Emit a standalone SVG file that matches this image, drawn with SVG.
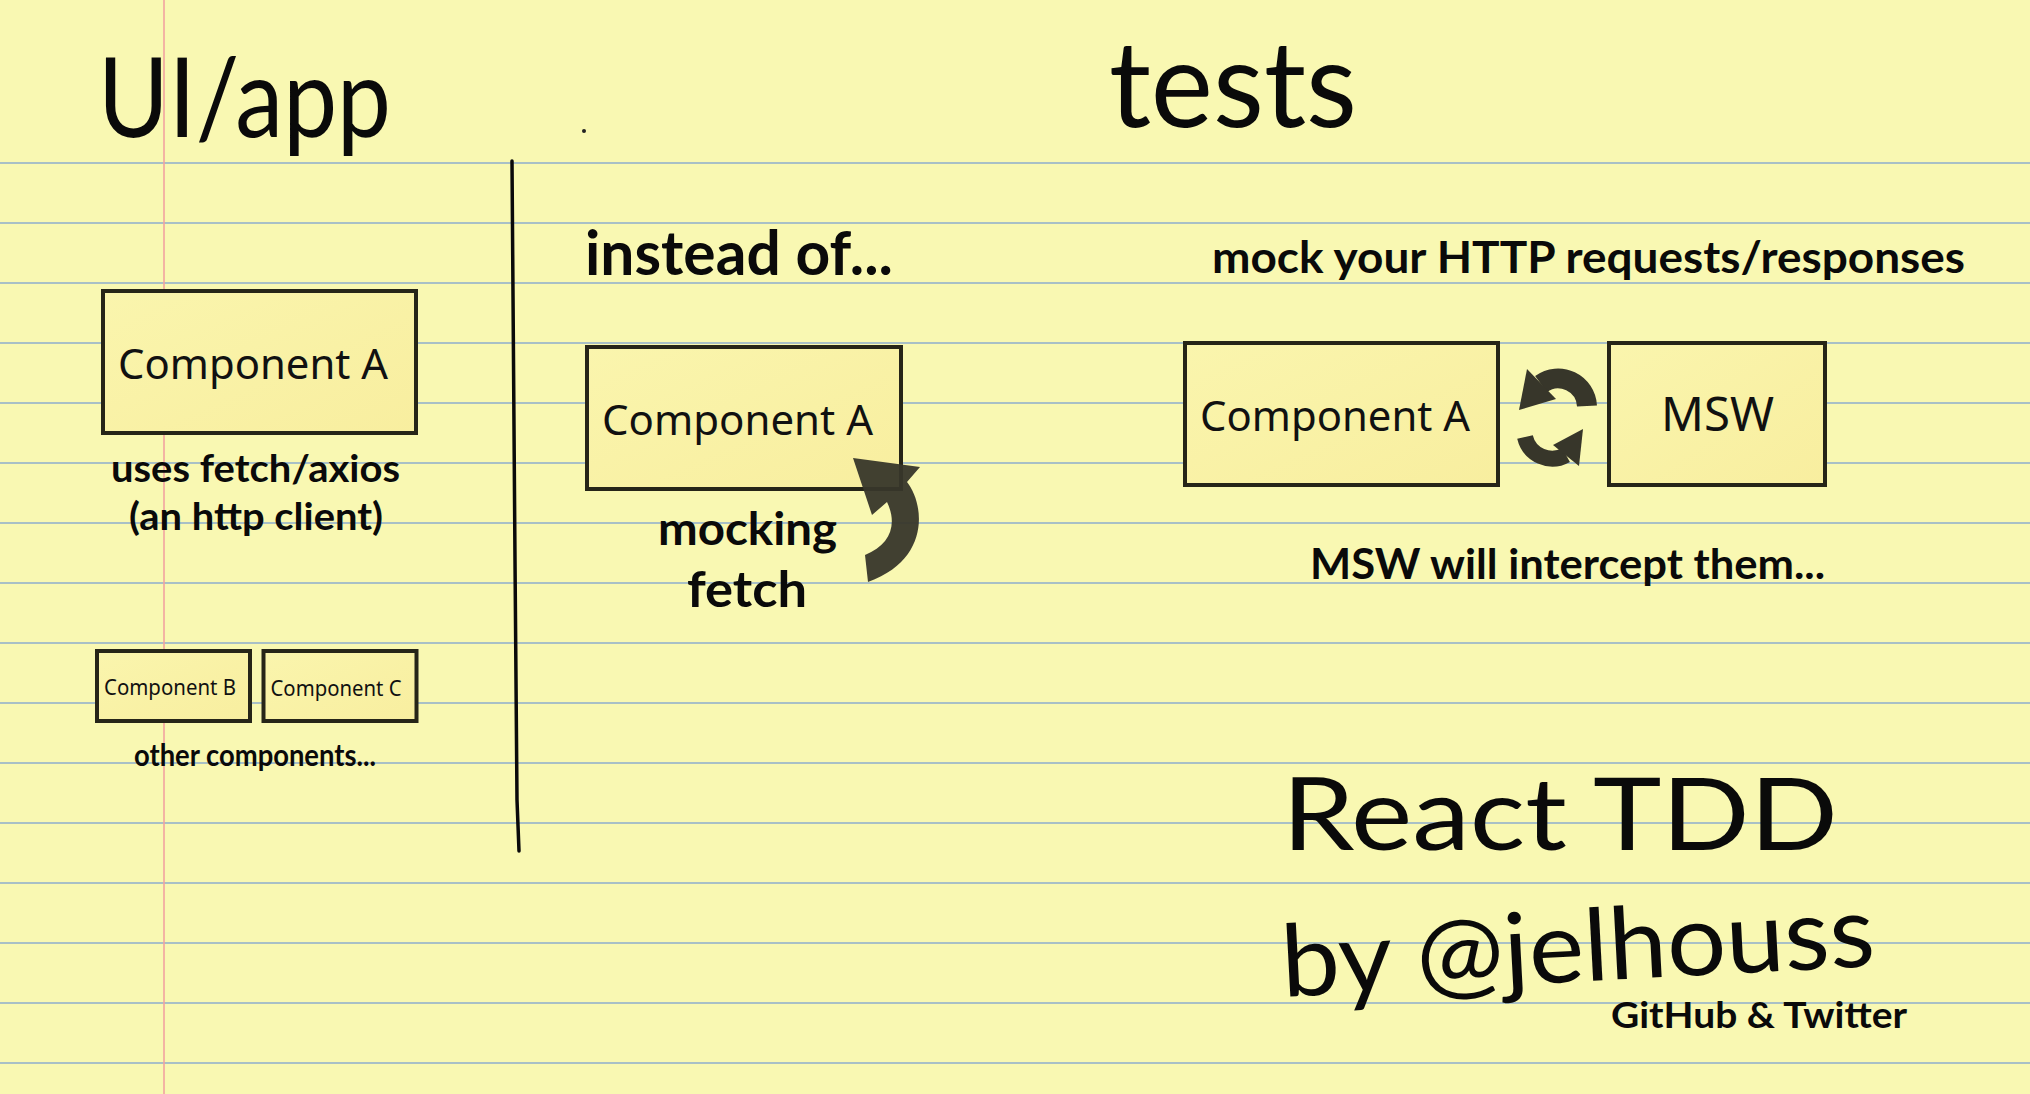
<svg xmlns="http://www.w3.org/2000/svg" width="2030" height="1094" viewBox="0 0 2030 1094">
<defs>
<style>
.rule{stroke:#a9c0c6;stroke-width:2}
.margin{stroke:#f2a3a0;stroke-width:1.6}
.box{fill:url(#boxfill);stroke:#262518;stroke-width:4}
.lbl{font-family:"Noto Sans","Liberation Sans",sans-serif;fill:#111}
.hand{font-family:Lato,"Noto Sans",sans-serif;fill:#0a0a0a}
.b{font-weight:700}
.icon{fill:#37362a}
.iconS{fill:none;stroke:#37362a;stroke-linecap:butt}
</style>
<linearGradient id="boxfill" x1="0" y1="0" x2="1" y2="1">
<stop offset="0" stop-color="#faf5ad"/>
<stop offset="1" stop-color="#f8ee9f"/>
</linearGradient>
</defs>

<g id="paper">
<rect x="0" y="0" width="2030" height="1094" fill="#f9f8b2"/>
<g>
<line class="rule" x1="0" y1="163" x2="2030" y2="163"/>
<line class="rule" x1="0" y1="223" x2="2030" y2="223"/>
<line class="rule" x1="0" y1="283" x2="2030" y2="283"/>
<line class="rule" x1="0" y1="343" x2="2030" y2="343"/>
<line class="rule" x1="0" y1="403" x2="2030" y2="403"/>
<line class="rule" x1="0" y1="463" x2="2030" y2="463"/>
<line class="rule" x1="0" y1="523" x2="2030" y2="523"/>
<line class="rule" x1="0" y1="583" x2="2030" y2="583"/>
<line class="rule" x1="0" y1="643" x2="2030" y2="643"/>
<line class="rule" x1="0" y1="703" x2="2030" y2="703"/>
<line class="rule" x1="0" y1="763" x2="2030" y2="763"/>
<line class="rule" x1="0" y1="823" x2="2030" y2="823"/>
<line class="rule" x1="0" y1="883" x2="2030" y2="883"/>
<line class="rule" x1="0" y1="943" x2="2030" y2="943"/>
<line class="rule" x1="0" y1="1003" x2="2030" y2="1003"/>
<line class="rule" x1="0" y1="1063" x2="2030" y2="1063"/>
</g>
<line class="margin" x1="164" y1="0" x2="164" y2="1094"/>
<path d="M512,161 L515,560 L517,800 L519,851" fill="none" stroke="#0a0a0a" stroke-width="3.5" stroke-linecap="round"/>
<circle cx="584" cy="131" r="2" fill="#222"/>
</g>

<g id="headings">
<text class="hand" x="98" y="137" font-size="110" textLength="293" lengthAdjust="spacingAndGlyphs">UI/app</text>
<text class="hand" x="1109" y="127" font-size="120" textLength="248" lengthAdjust="spacingAndGlyphs">tests</text>
<text class="hand b" x="585" y="275" font-size="62" textLength="308" lengthAdjust="spacingAndGlyphs">instead of...</text>
<text class="hand b" x="1212" y="273" font-size="44" textLength="753" lengthAdjust="spacingAndGlyphs">mock your HTTP requests/responses</text>
</g>

<g id="node-ui-component-a">
<rect class="box" x="103" y="291" width="313" height="142"/>
<text class="lbl" x="118" y="378.6" font-size="42" textLength="270" lengthAdjust="spacingAndGlyphs">Component A</text>
</g>
<g id="note-uses-fetch">
<text class="hand b" x="111" y="482" font-size="38" textLength="289" lengthAdjust="spacingAndGlyphs">uses fetch/axios</text>
<text class="hand b" x="129" y="530" font-size="38" textLength="254" lengthAdjust="spacingAndGlyphs">(an http client)</text>
</g>

<g id="node-component-b">
<rect class="box" x="97" y="651" width="153" height="70"/>
<text class="lbl" x="104" y="694.5" font-size="21" textLength="132" lengthAdjust="spacingAndGlyphs">Component B</text>
</g>
<g id="node-component-c">
<rect class="box" x="263.5" y="651" width="153" height="70"/>
<text class="lbl" x="270.5" y="696" font-size="21" textLength="131" lengthAdjust="spacingAndGlyphs">Component C</text>
</g>
<g id="note-other">
<text class="hand b" x="134" y="766" font-size="30" textLength="242" lengthAdjust="spacingAndGlyphs">other components...</text>
</g>

<g id="node-mock-component-a">
<rect class="box" x="587" y="347" width="314" height="142"/>
<text class="lbl" x="602" y="435" font-size="42" textLength="271" lengthAdjust="spacingAndGlyphs">Component A</text>
</g>
<g id="note-mocking">
<text class="hand b" x="658" y="545" font-size="46" textLength="179" lengthAdjust="spacingAndGlyphs">mocking</text>
<text class="hand b" x="687" y="607" font-size="50" textLength="120" lengthAdjust="spacingAndGlyphs">fetch</text>
</g>

<g id="node-msw-component-a">
<rect class="box" x="1185" y="343" width="313" height="142"/>
<text class="lbl" x="1200" y="430.7" font-size="42" textLength="270" lengthAdjust="spacingAndGlyphs">Component A</text>
</g>
<g id="node-msw">
<rect class="box" x="1609" y="343" width="216" height="142"/>
<text class="lbl" x="1661" y="430.7" font-size="48" textLength="113" lengthAdjust="spacingAndGlyphs">MSW</text>
</g>
<g id="note-intercept">
<text class="hand b" x="1310" y="579" font-size="42" textLength="515" lengthAdjust="spacingAndGlyphs">MSW will intercept them...</text>
</g>

<g id="connectors">
<path class="icon" opacity="0.95" d="M853,458 L920,467 L907,482 C925,505 930,560 868,582 L865,555 C890,545 898,525 887,502 L872,515 Z"/>
<path class="iconS" stroke-width="20" d="M1587,406 A29,29 0 0 0 1541,384"/>
<polygon class="icon" points="1527,369 1519,410 1556,399"/>
<path class="iconS" stroke-width="16" d="M1525,437 A28,28 0 0 0 1566,455"/>
<polygon class="icon" points="1583,429 1579,466 1553,445"/>
</g>

<g id="credits">
<text class="hand" x="1282" y="850" font-size="100" textLength="556" lengthAdjust="spacingAndGlyphs">React TDD</text>
<text class="hand" x="1283" y="997" font-size="100" textLength="594" lengthAdjust="spacingAndGlyphs" transform="rotate(-3 1283 997)">by @jelhouss</text>
<text class="hand b" x="1611" y="1028" font-size="36" textLength="296" lengthAdjust="spacingAndGlyphs">GitHub &amp; Twitter</text>
</g>
</svg>
